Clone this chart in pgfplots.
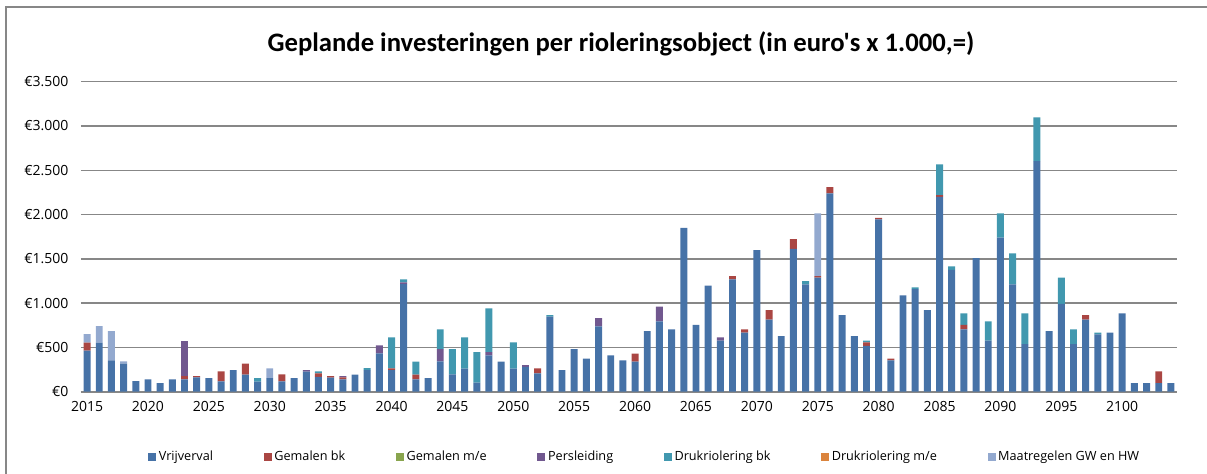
\documentclass[border=0pt]{standalone}
\usepackage{fontspec}
\setmainfont{Open Sans}
\newfontfamily\titlefont{Carlito}
\usepackage{pgfplots}
\pgfplotsset{compat=1.18}
\usepackage{pgfplotstable}

\definecolor{cVrij}{HTML}{4672A7}
\definecolor{cGemBk}{HTML}{AA4643}
\definecolor{cGemMe}{HTML}{89A54E}
\definecolor{cPers}{HTML}{71588F}
\definecolor{cDrukBk}{HTML}{4198AF}
\definecolor{cDrukMe}{HTML}{DB843D}
\definecolor{cMaat}{HTML}{93A9CF}
\definecolor{cgrid}{HTML}{878787}

% investeringen per jaar (x 1.000 euro), idx 0 = 2015
\pgfplotstableread{
idx vrij gembk gemme pers drukbk drukme maat
0 463 90 0 0 0 0 98
1 553 0 0 0 0 0 188
2 354 0 0 0 0 0 331
3 316 0 0 0 0 0 26
4 120 0 0 0 0 0 0
5 139 0 0 0 0 0 0
6 98 0 0 0 0 0 0
7 139 0 0 0 0 0 0
8 139 38 0 395 0 0 0
9 162 15 0 0 0 0 0
10 154 0 0 0 0 0 0
11 117 113 0 0 0 0 0
12 245 0 0 0 0 0 0
13 192 124 0 0 0 0 0
14 113 0 0 0 41 0 0
15 154 0 0 0 0 0 109
16 117 79 0 0 0 0 0
17 154 0 0 0 0 0 0
18 226 0 0 19 0 0 0
19 169 38 0 0 23 0 0
20 158 19 0 0 0 0 0
21 139 23 0 15 0 0 0
22 192 0 0 0 0 0 0
23 245 0 0 0 22 0 0
24 433 0 0 90 0 0 0
25 245 18 0 0 350 0 0
26 1215 0 0 19 34 0 0
27 139 53 0 0 147 0 0
28 154 0 0 0 0 0 0
29 342 0 0 140 222 0 0
30 196 0 0 0 286 0 0
31 260 0 0 0 353 0 0
32 102 0 0 0 346 0 0
33 410 0 0 38 493 0 0
34 339 0 0 0 0 0 0
35 260 0 0 0 297 0 0
36 282 0 0 19 0 0 0
37 207 56 0 0 0 0 0
38 847 0 0 0 19 0 0
39 245 0 0 0 0 0 0
40 482 0 0 0 0 0 0
41 373 0 0 0 0 0 0
42 738 0 0 94 0 0 0
43 410 0 0 0 0 0 0
44 354 0 0 0 0 0 0
45 339 90 0 0 0 0 0
46 685 0 0 0 0 0 0
47 794 0 0 166 0 0 0
48 704 0 0 0 0 0 0
49 1851 0 0 0 0 0 0
50 756 0 0 0 0 0 0
51 1197 0 0 0 0 0 0
52 576 0 0 37 0 0 0
53 1268 38 0 0 0 0 0
54 666 38 0 0 0 0 0
55 1599 0 0 0 0 0 0
56 813 109 0 0 0 0 0
57 628 0 0 0 0 0 0
58 1614 109 0 0 0 0 0
59 1212 0 0 0 37 0 0
60 1287 19 0 0 0 0 707
61 2239 71 0 0 0 0 0
62 865 0 0 0 0 0 0
63 628 0 0 0 0 0 0
64 519 38 0 0 19 0 0
65 1945 19 0 0 0 0 0
66 354 19 0 0 0 0 0
67 1088 0 0 0 0 0 0
68 1159 0 0 0 19 0 0
69 922 0 0 0 0 0 0
70 2201 19 0 0 346 0 0
71 1377 0 0 0 38 0 0
72 704 52 0 0 128 0 0
73 1509 0 0 0 0 0 0
74 576 0 0 0 218 0 0
75 1739 0 0 0 274 0 0
76 1212 0 0 0 350 0 0
77 538 0 0 0 346 0 0
78 2604 0 0 0 493 0 0
79 685 0 0 0 0 0 0
80 993 0 0 0 294 0 0
81 538 0 0 0 166 0 0
82 813 53 0 0 0 0 0
83 647 0 0 0 19 0 0
84 666 0 0 0 0 0 0
85 884 0 0 0 0 0 0
86 98 0 0 0 0 0 0
87 98 0 0 0 0 0 0
88 98 132 0 0 0 0 0
89 98 0 0 0 0 0 0
}\invest

\begin{document}
\begin{tikzpicture}
\useasboundingbox (0,0) rectangle (905.25pt,355.5pt);
\draw[cgrid, line width=0.8pt] (4.5pt,-2pt) -- (4.5pt,350.25pt) -- (910pt,350.25pt);
\node[font=\titlefont\bfseries\fontsize{20}{24}\selectfont] at (465.75pt,322.5pt)
  {Geplande investeringen per rioleringsobject (in euro's x 1.000,=)};
\begin{axis}[
    at={(60.75pt,61.7pt)}, anchor=south west,
    scale only axis,
    width=822pt, height=232.5pt,
    ybar stacked,
    bar width=0.57,
    xmin=-0.5, xmax=89.5,
    ymin=0, ymax=3500,
    xtick={0,5,...,85},
    xticklabels={2015,2020,2025,2030,2035,2040,2045,2050,2055,2060,2065,2070,2075,2080,2085,2090,2095,2100},
    ytick={0,500,...,3500},
    yticklabels={€0,€500,€1.000,€1.500,€2.000,€2.500,€3.000,€3.500},
    major tick length=0pt,
    ymajorgrids,
    grid style={cgrid, line width=1.1pt},
    axis x line*=bottom,
    axis y line*=left,
    y axis line style={draw=none},
    x axis line style={cgrid, line width=1.4pt},
    tick label style={font=\fontsize{10.5}{12}\selectfont},
    xticklabel style={yshift=-4pt},
    yticklabel style={xshift=-6pt},
    legend columns=7,
    legend style={draw=none, fill=none, at={(0.5,-61.7pt+12.75pt)}, anchor=center, xshift=12pt,
      font=\fontsize{9.5}{11}\selectfont, /tikz/every even column/.append style={column sep=36pt}},
    legend image code/.code={\fill[#1] (0pt,-3pt) rectangle (6pt,3pt);},
    every axis plot/.append style={draw=none},
]
\addplot[fill=cVrij] table[x=idx,y=vrij] {\invest};
\addplot[fill=cGemBk] table[x=idx,y=gembk] {\invest};
\addplot[fill=cGemMe] table[x=idx,y=gemme] {\invest};
\addplot[fill=cPers] table[x=idx,y=pers] {\invest};
\addplot[fill=cDrukBk] table[x=idx,y=drukbk] {\invest};
\addplot[fill=cDrukMe] table[x=idx,y=drukme] {\invest};
\addplot[fill=cMaat] table[x=idx,y=maat] {\invest};
\legend{Vrijverval,Gemalen bk,Gemalen m/e,Persleiding,Drukriolering bk,Drukriolering m/e,Maatregelen GW en HW}
\end{axis}
\end{tikzpicture}
\end{document}
